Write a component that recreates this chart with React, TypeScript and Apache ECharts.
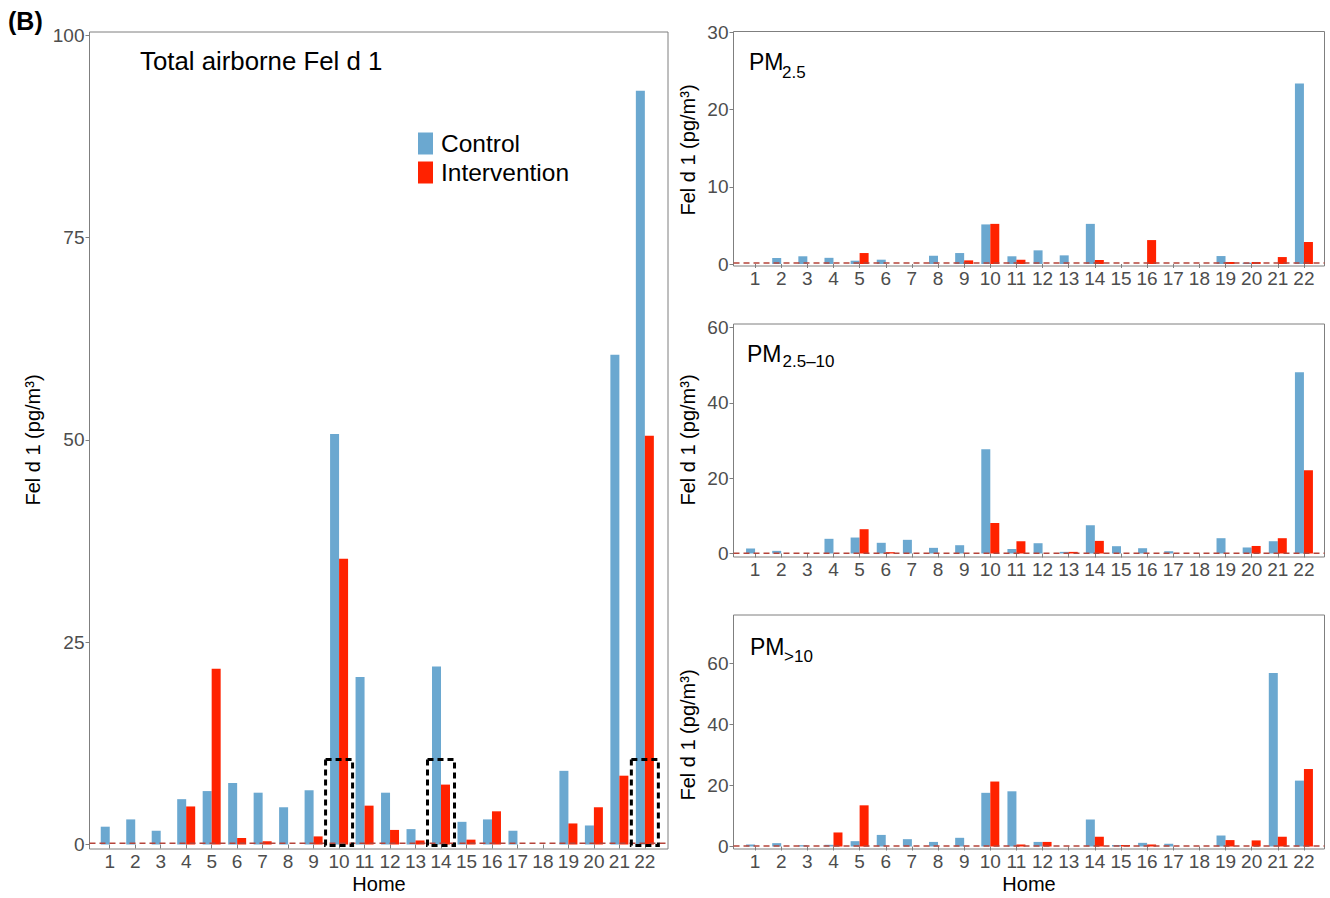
import React, { useEffect, useRef } from "react";
import * as echarts from "echarts";

// ---------- data ----------
const homes = ["1", "2", "3", "4", "5", "6", "7", "8", "9", "10", "11", "12", "13", "14", "15", "16", "17", "18", "19", "20", "21", "22"];

const totalControl = [2.2, 3.1, 1.7, 5.6, 6.6, 7.6, 6.4, 4.6, 6.7, 50.7, 20.7, 6.4, 1.9, 22.0, 2.8, 3.1, 1.7, 0, 9.1, 2.35, 60.5, 93.1];
const totalIntervention = [0, 0, 0, 4.7, 21.7, 0.8, 0.4, 0, 1.0, 35.3, 4.8, 1.8, 0.5, 7.4, 0.6, 4.1, 0, 0, 2.6, 4.6, 8.5, 50.5];

const pm25Control = [0, 0.78, 1.0, 0.8, 0.43, 0.56, 0, 1.07, 1.42, 5.13, 1.0, 1.77, 1.12, 5.2, 0, 0, 0, 0, 1.03, 0.17, 0, 23.4];
const pm25Intervention = [0, 0, 0, 0, 1.42, 0, 0, 0, 0.47, 5.2, 0.56, 0, 0, 0.52, 0, 3.1, 0, 0, 0.26, 0.26, 0.9, 2.85];

const pm2510Control = [1.33, 0.7, 0, 3.9, 4.24, 2.84, 3.63, 1.5, 2.2, 27.7, 1.2, 2.73, 0.43, 7.5, 1.94, 1.4, 0.6, 0, 4.06, 1.6, 3.26, 48.1];
const pm2510Intervention = [0, 0, 0, 0, 6.45, 0.35, 0, 0, 0, 8.1, 3.26, 0, 0.43, 3.35, 0, 0, 0, 0, 0, 2.0, 4.06, 22.1];

const pm10Control = [0.66, 1.1, 0.44, 0.55, 1.75, 3.8, 2.4, 1.5, 2.85, 17.6, 18.1, 1.5, 0, 8.85, 0.5, 1.2, 0.9, 0, 3.6, 0, 56.9, 21.6];
const pm10Intervention = [0, 0, 0, 4.6, 13.5, 0, 0, 0, 0, 21.3, 0.66, 1.5, 0, 3.2, 0.5, 0.66, 0, 0, 2.1, 2.0, 3.2, 25.4];

const boxedHomes = ["10", "14", "22"];
const boxedHeight = 10.5;

// y-axis tick settings [max, step] and detection-limit line value per panel
const yMaxes = [100, 30, 60, 60];
const ySteps = [25, 10, 20, 20];
const lodValues = [0.15, 0.13, 0.05, 0.15];

// ---------- style ----------
const FONT = '"Liberation Sans", Arial, Helvetica, sans-serif';
const BLUE = "#6ba8d0";
const RED = "#ff2200";
const GREY = "#7f7f7f";
const TICKTXT = "#4d4d4d";

// layout: box [left, top, right, bottom], data-area left/right, top (pixel of max tick), zero pixel
const layout = [
  { box: [89.5, 32, 668, 849], dl: 97, dr: 657.6, top: 35, zero: 844.5 },
  { box: [733.5, 31.5, 1324.5, 266], dl: 742, dr: 1317, top: 32.5, zero: 264 },
  { box: [733.5, 324, 1324.5, 557], dl: 742, dr: 1317, top: 327.5, zero: 553.5 },
  { box: [733.5, 615, 1324.5, 849], dl: 742, dr: 1317, top: 663.5, zero: 846.5 },
];

const seriesData = [
  [totalControl, totalIntervention],
  [pm25Control, pm25Intervention],
  [pm2510Control, pm2510Intervention],
  [pm10Control, pm10Intervention],
];

function buildOption() {
  const grid: any[] = [];
  const xAxis: any[] = [];
  const yAxis: any[] = [];
  const series: any[] = [];

  layout.forEach((L, k) => {
    const [bl, bt, br, bb] = L.box;
    const max = yMaxes[k];
    const ppu = (L.zero - L.top) / max;
    const bi = 2 * k;
    const di = 2 * k + 1;
    grid.push({
      left: bl, top: bt, width: br - bl, height: bb - bt,
      show: true, borderColor: GREY, borderWidth: 1, backgroundColor: "rgba(0,0,0,0)",
    });
    grid.push({ left: L.dl, top: L.top, width: L.dr - L.dl, height: L.zero - L.top });

    xAxis.push({ gridIndex: bi, type: "value", min: 0, max: 1, show: false });
    yAxis.push({
      gridIndex: bi, type: "value", show: false,
      min: -(bb - L.zero) / ppu, max: max + (L.top - bt) / ppu,
    });

    xAxis.push({
      gridIndex: di, type: "category", data: homes, offset: bb - L.zero,
      axisLine: { show: false },
      axisTick: { show: true, alignWithLabel: true, length: 4, lineStyle: { color: GREY } },
      axisLabel: { interval: 0, margin: 3, fontSize: 19, color: TICKTXT, fontFamily: FONT },
      splitLine: { show: false },
    });
    yAxis.push({
      gridIndex: di, type: "value", min: 0, max, interval: ySteps[k], offset: L.dl - bl,
      axisLine: { show: false },
      axisTick: { show: true, length: 4, lineStyle: { color: GREY } },
      axisLabel: { margin: 5, fontSize: 19, color: TICKTXT, fontFamily: FONT },
      splitLine: { show: false },
    });

    const [c, iv] = seriesData[k];
    series.push({
      name: "Control", type: "bar", xAxisIndex: di, yAxisIndex: di, data: c,
      barWidth: 9, barGap: "0%", itemStyle: { color: BLUE }, z: 2,
    });
    series.push({
      name: "Intervention", type: "bar", xAxisIndex: di, yAxisIndex: di, data: iv,
      barWidth: 9, barGap: "0%", itemStyle: { color: RED }, z: 2,
    });
    series.push({
      name: "LOD", type: "line", xAxisIndex: bi, yAxisIndex: bi,
      data: [[0, lodValues[k]], [1, lodValues[k]]],
      symbol: "none", silent: true, z: 3,
      lineStyle: { color: "#b5443a", width: 1.4, type: [6, 4] },
    });
  });

  series.push({
    name: "boxes", type: "custom", xAxisIndex: 1, yAxisIndex: 1, z: 4, silent: true,
    data: boxedHomes.map((h) => [h, boxedHeight]),
    encode: { x: 0, y: 1 },
    renderItem: (params: any, api: any) => {
      const x = api.value(0);
      const top = api.coord([x, api.value(1)]);
      const bot = api.coord([x, 0]);
      const bw = api.size([1, 0])[0];
      const w = bw * 1.06;
      return {
        type: "rect",
        shape: { x: top[0] - w / 2, y: top[1], width: w, height: bot[1] - top[1] + 1 },
        style: { fill: "none", stroke: "#000", lineWidth: 3, lineDash: [6, 4] },
      };
    },
  });

  const ytitle = (x: number, y: number) => ({
    type: "text", x, y, rotation: Math.PI / 2,
    style: { text: "Fel d 1 (pg/m³)", fontSize: 20, fontFamily: FONT, fill: "#000", align: "center", verticalAlign: "middle" },
  });
  const txt = (text: string, x: number, y: number, size: number, extra: any = {}) => ({
    type: "text", x, y,
    style: { text, fontSize: size, fontFamily: FONT, fill: "#000", align: "left", verticalAlign: "middle", ...extra },
  });

  const graphic = [
    txt("(B)", 8, 21, 25, { fontWeight: "bold" }),
    txt("Total airborne Fel d 1", 140, 61, 25.8),
    ytitle(33, 440),
    ytitle(688, 150),
    ytitle(688, 440),
    ytitle(688, 735),
    txt("Home", 379, 884, 20, { align: "center" }),
    txt("Home", 1029, 884, 20, { align: "center" }),
    txt("PM", 749, 62, 23),
    txt("2.5", 782, 72, 17),
    txt("PM", 747, 354, 23),
    txt("2.5\u201310", 782.5, 361, 17),
    txt("PM", 750, 647, 23),
    txt(">10", 784, 656, 17),
  ];

  return {
    animation: false,
    backgroundColor: "#fff",
    textStyle: { fontFamily: FONT },
    legend: {
      data: ["Control", "Intervention"], left: 418, top: 131, orient: "vertical", padding: 0,
      itemWidth: 15, itemHeight: 22, itemGap: 4, icon: "rect", selectedMode: false,
      textStyle: { fontSize: 24.5, color: "#000", fontFamily: FONT, lineHeight: 22, padding: [0, 0, 0, 3] },
    },
    grid, xAxis, yAxis, series, graphic,
  };
}

export default function App() {
  const ref = useRef<HTMLDivElement>(null);
  useEffect(() => {
    const chart = echarts.init(ref.current!, null, { renderer: "svg" });
    chart.setOption(buildOption() as any);
    return () => chart.dispose();
  }, []);
  return (
    <div
      ref={ref}
      style={{ position: "fixed", left: 0, top: 0, width: 1330, height: 898, background: "#fff" }}
    />
  );
}
